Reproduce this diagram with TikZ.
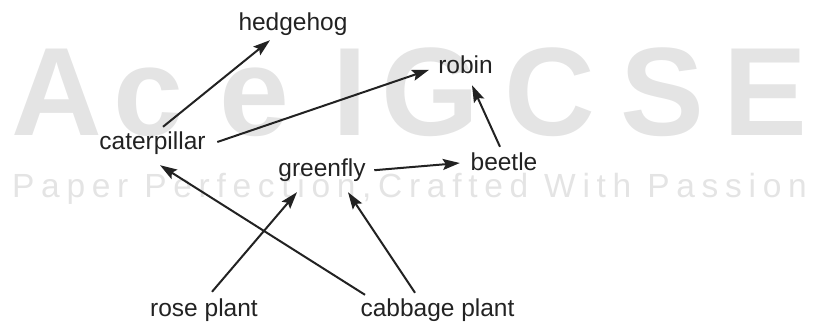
\documentclass[tikz,border=0pt]{standalone}
\usepackage{fontspec}
\setmainfont{Liberation Sans}
\usetikzlibrary{arrows.meta}

\definecolor{ink}{HTML}{222222}
\definecolor{mark}{HTML}{E4E4E4}

\begin{document}
\begin{tikzpicture}[x=1pt, y=-1pt,
        organism/.style={text=ink, font=\fontsize{24.5}{29}\selectfont, inner sep=2pt,
            text height=18pt, text depth=5pt, anchor=base},
        feeds/.style={draw=ink, line width=2pt, -{Stealth[length=17pt, width=11pt, inset=3pt]}},
        bigmark/.style={text=mark, font=\fontsize{125.7}{130}\selectfont\bfseries, inner sep=0pt, anchor=base},
        smallmark/.style={text=mark, font=\fontsize{33.5}{40}\selectfont\addfontfeature{LetterSpace=20},
            inner sep=0pt, anchor=base west}]
        \useasboundingbox (0,0) rectangle (813,325);

        % watermark
        \foreach \ch/\cx in {A/56.5, c/148.5, e/254, I/350, G/430, C/550, S/662, E/765}
            \node[bigmark] (mark\ch) at (\cx,135) {\ch};
        \node[smallmark] (motto) at (12,197) {Paper Perfection,Crafted With Passion};

        % organisms
        \node[organism] (hedgehog) at (293,30.5) {hedgehog};
        \node[organism] (robin) at (465.5,73.3) {robin};
        \node[organism] (caterpillar) at (152.5,149.5) {caterpillar};
        \node[organism] (greenfly) at (322,176.7) {greenfly};
        \node[organism] (beetle) at (504,170.7) {beetle};
        \node[organism] (rose) at (204,316.7) {rose plant};
        \node[organism] (cabbage) at (437.5,316.7) {cabbage plant};

        % feeding links
        \draw[feeds] ([xshift=10.5pt,yshift=2.5pt]caterpillar.north) -- ([xshift=-23pt,yshift=-2.5pt]hedgehog.south);
        \draw[feeds] ([xshift=9.5pt,yshift=1pt]caterpillar.east) -- ([xshift=-7pt,yshift=-3pt]robin.west);
        \draw[feeds] ([xshift=-4pt,yshift=3.7pt]beetle.north) -- ([xshift=6.5pt,yshift=-4.7pt]robin.south);
        \draw[feeds] ([xshift=6.5pt]greenfly.east) -- ([xshift=-8.6pt,yshift=1.2pt]beetle.west);
        \draw[feeds] ([xshift=8pt,yshift=4.7pt]rose.north) -- ([xshift=-25pt,yshift=-8.3pt]greenfly.south);
        \draw[feeds] ([xshift=-22.5pt,yshift=3.7pt]cabbage.north) -- ([xshift=26pt,yshift=-8.3pt]greenfly.south);
        \draw[feeds] ([xshift=-72.5pt,yshift=1.7pt]cabbage.north) -- ([xshift=7.5pt,yshift=-8.5pt]caterpillar.south);
\end{tikzpicture}
\end{document}
